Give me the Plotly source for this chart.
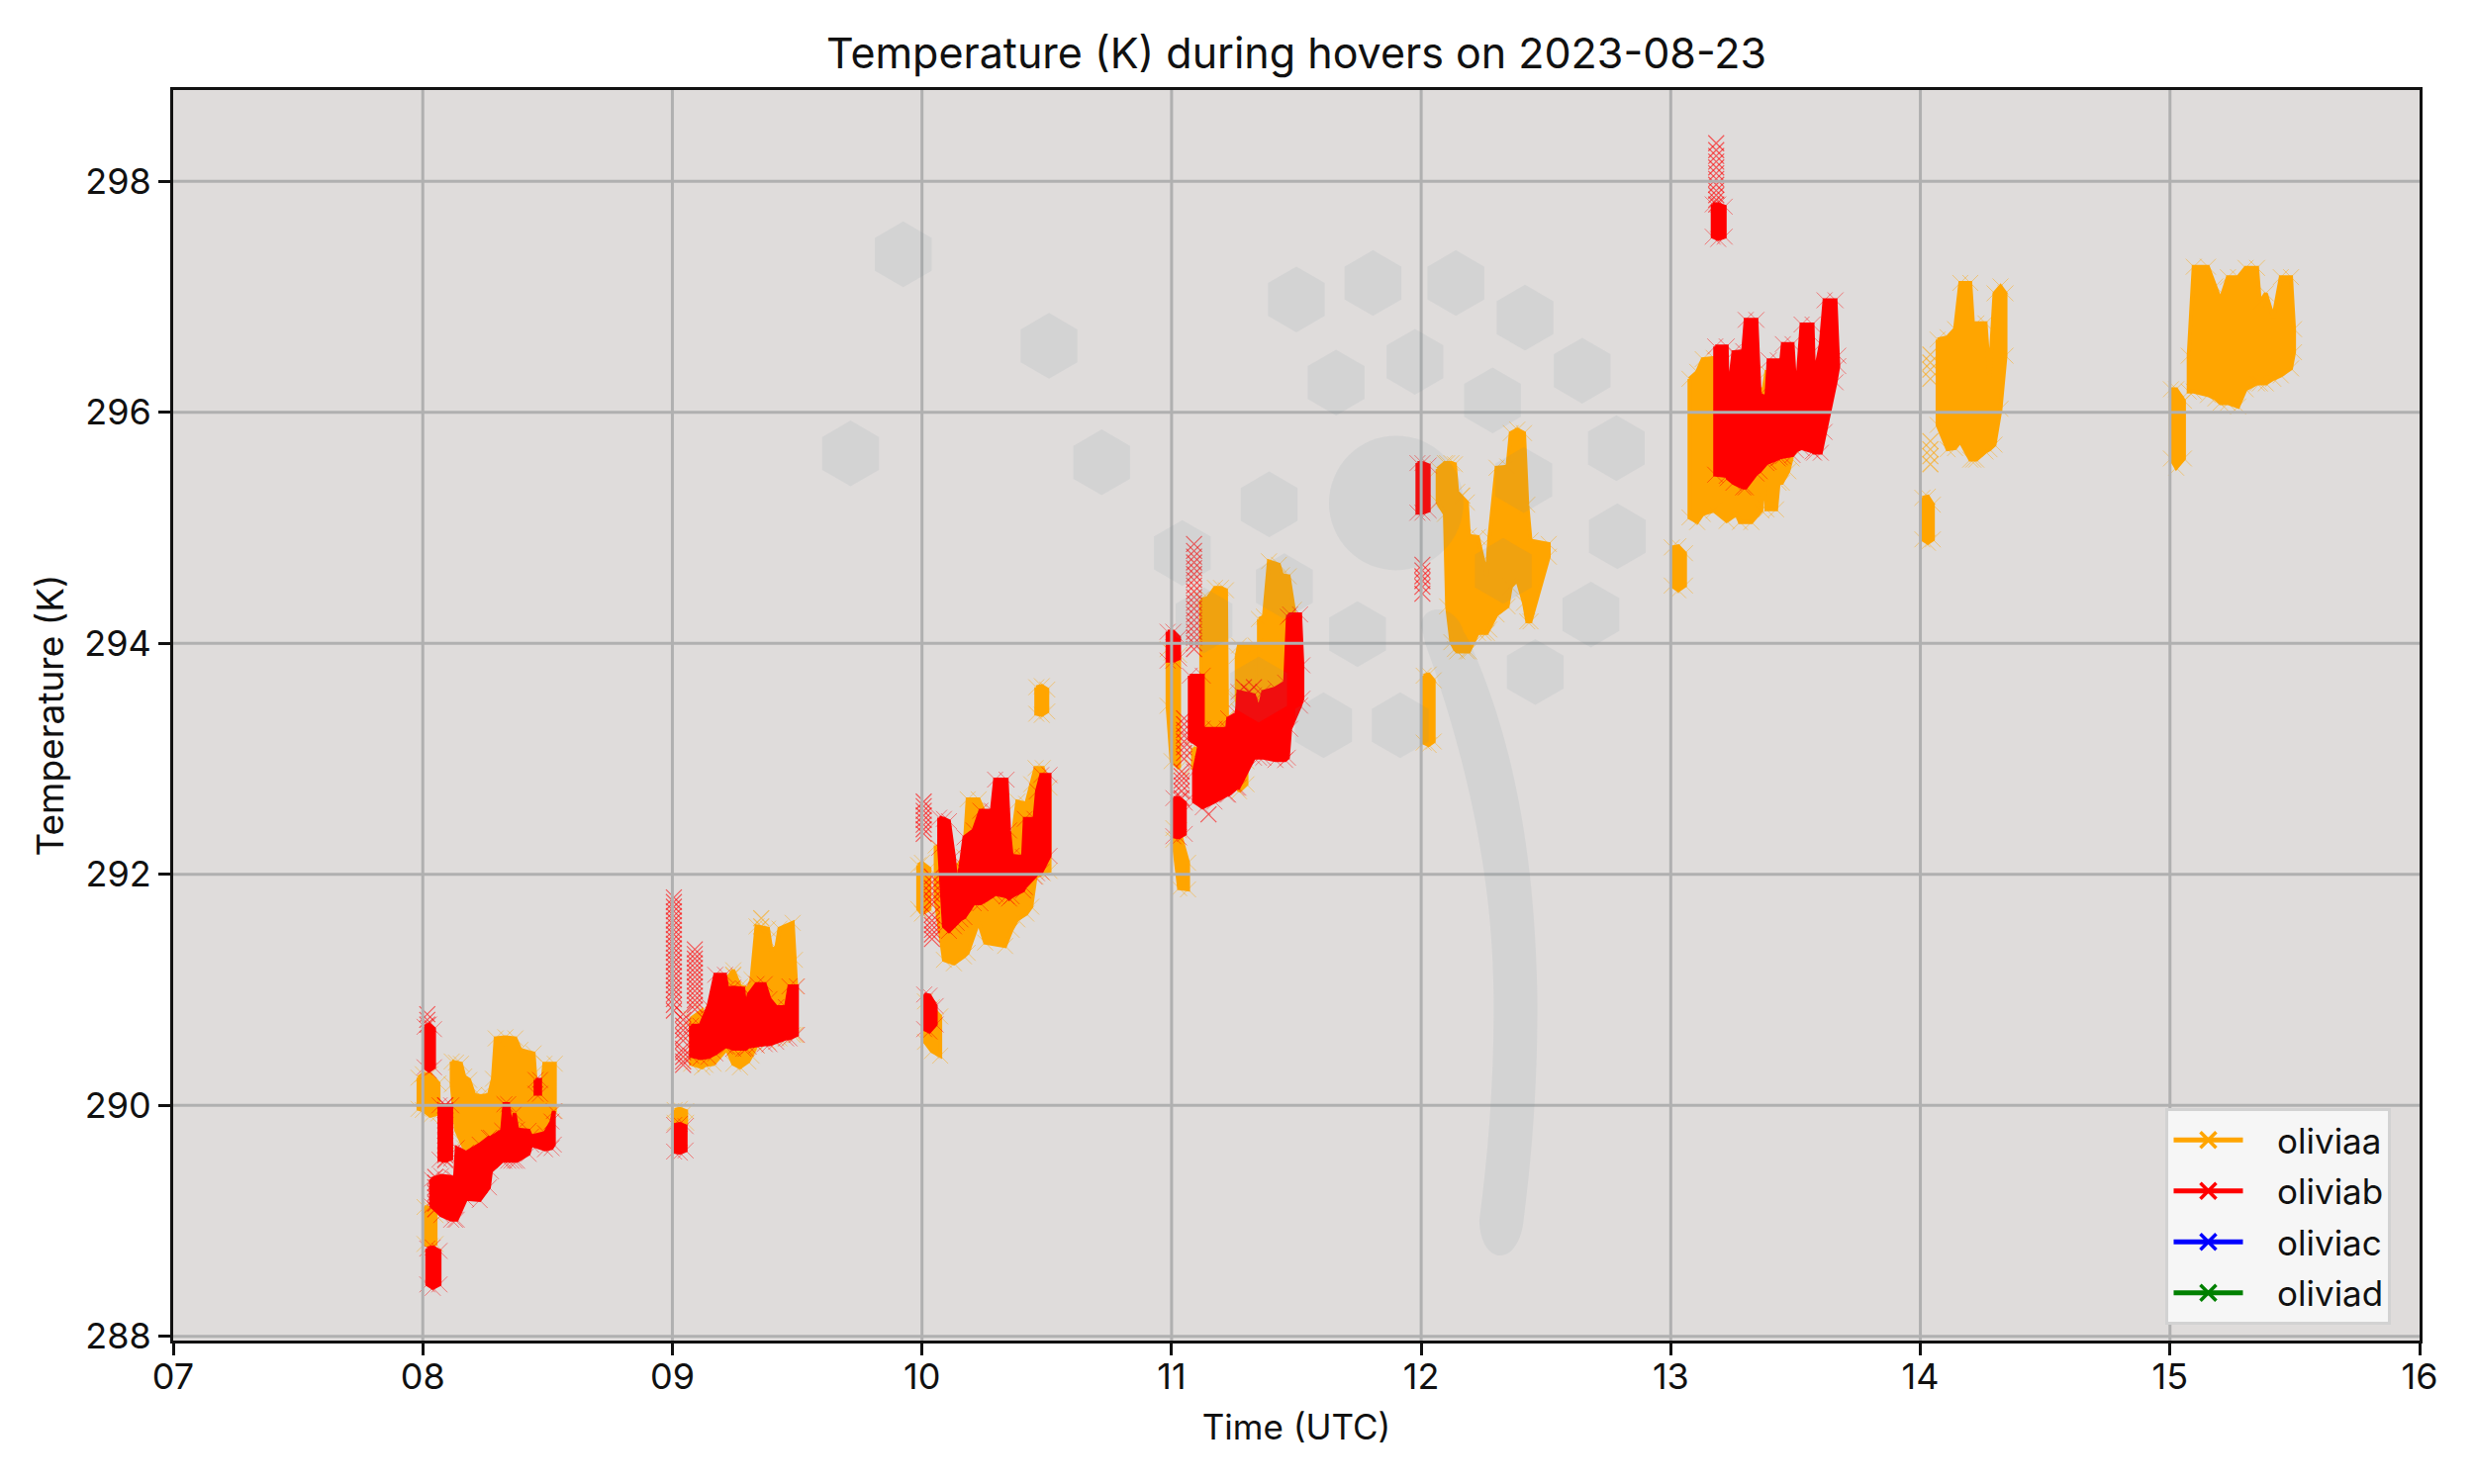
import plotly.graph_objects as go

FONT = "Inter"
INK = "#111111"
GRID = "#b0b0b0"
PANEL = "#dfdcdb"
WATERMARK = "rgba(103,140,149,0.10)"

names = ["oliviaa", "oliviab", "oliviac", "oliviad"]
colors = ["orange", "red", "blue", "green"]

hour_ticks = [7, 8, 9, 10, 11, 12, 13, 14, 15, 16]
hour_labels = ["07", "08", "09", "10", "11", "12", "13", "14", "15", "16"]
temp_ticks = [288, 290, 292, 294, 296, 298]

# envelope of each hover; None splits the hovers
oliviaa_hours = [
    7.983, 8.0, 8.03, 8.063, None,
    8.007, 8.03, 8.051, None,
    8.116, 8.133, 8.153, 8.166, 8.186, 8.206, 8.232, 8.265, 8.281, 8.292, 8.331, 8.371, 8.391, 8.444, 8.453, 8.479, 8.487, 8.529, None,
    9.009, 9.03, 9.055, None,
    9.075, 9.119, 9.132, 9.165, 9.218, 9.244, 9.271, 9.304, 9.317, 9.337, 9.383, 9.396, 9.416, 9.429, 9.482, 9.491, 9.496, None,
    9.985, 10.0, 10.03, None,
    10.012, 10.04, 10.073, None,
    10.055, 10.088, 10.128, 10.168, 10.183, 10.227, 10.253, 10.333, 10.359, 10.382, 10.418, 10.438, 10.455, 10.484, 10.511, None,
    10.458, 10.48, 10.502, None,
    10.984, 11.0, 11.03, None,
    11.007, 11.03, 11.066, None,
    11.086, 11.119, None,
    11.119, 11.145, 11.174, 11.198, 11.218, 11.222, None,
    11.261, 11.27, 11.337, 11.343, None,
    11.35, 11.37, 11.39, 11.43, 11.442, 11.469, 11.49, None,
    11.27, 11.3, None,
    12.01, 12.03, 12.05, None,
    12.066, 12.095, 12.104, 12.121, 12.135, 12.144, 12.183, 12.191, 12.227, 12.25, 12.263, 12.273, 12.302, 12.346, 12.359, 12.385, 12.412, 12.425, 12.438, 12.511, None,
    13.004, 13.03, 13.057, None,
    13.075, 13.106, 13.128, 13.172, 13.224, 13.264, 13.277, 13.323, 13.363, 13.37, 13.383, 13.422, 13.432, 13.445, 13.471, 13.484, None,
    14.008, 14.03, 14.05, None,
    14.069, 14.109, 14.139, 14.16, 14.2, 14.212, 14.224, 14.261, 14.277, 14.297, 14.321, 14.341, None,
    15.004, 15.025, 15.056, None,
    15.075, 15.095, 15.152, 15.182, 15.202, 15.232, 15.273, 15.303, 15.349, 15.36, 15.384, 15.414, 15.444, 15.485, 15.497,
]
oliviaa_high = [
    290.24, 290.27, 290.27, 290.19, None,
    289.12, 289.11, 289.05, None,
    290.38, 290.37, 290.36, 290.25, 290.22, 290.09, 290.08, 290.09, 290.23, 290.58, 290.59, 290.58, 290.48, 290.45, 290.18, 290.19, 290.36, 290.36, None,
    289.96, 289.97, 289.95, None,
    290.75, 290.82, 290.72, 290.81, 291.09, 291.17, 291.03, 291.01, 291.09, 291.55, 291.53, 291.35, 291.36, 291.53, 291.58, 291.26, 291.03, None,
    292.08, 292.1, 292.05, None,
    290.9, 290.85, 290.77, None,
    292.25, 292.15, 292.03, 292.15, 292.65, 292.65, 292.52, 292.15, 292.26, 292.63, 292.61, 292.78, 292.92, 292.92, 292.75, None,
    293.62, 293.63, 293.6, None,
    293.95, 293.92, 293.9, None,
    292.4, 292.38, 292.1, None,
    293.09, 293.08, None,
    294.38, 294.39, 294.48, 294.48, 294.46, 293.58, None,
    293.89, 293.98, 293.98, 293.72, None,
    294.21, 294.23, 294.71, 294.68, 294.59, 294.58, 294.29, None,
    293.0, 292.98, None,
    293.72, 293.73, 293.68, None,
    295.51, 295.56, 295.56, 295.56, 295.55, 295.31, 295.22, 294.93, 294.92, 294.72, 294.58, 294.91, 295.52, 295.53, 295.82, 295.85, 295.82, 295.2, 294.89, 294.86, None,
    294.83, 294.84, 294.78, None,
    296.29, 296.35, 296.46, 296.47, 296.23, 296.2, 296.2, 296.2, 296.2, 296.17, 296.35, 296.35, 296.15, 296.03, 295.97, 295.95, None,
    295.26, 295.27, 295.2, None,
    296.63, 296.65, 296.72, 297.12, 297.12, 296.72, 296.77, 296.77, 296.29, 297.03, 297.09, 297.03, None,
    296.2, 296.2, 296.1, None,
    296.49, 297.26, 297.26, 297.09, 296.97, 297.17, 297.17, 297.25, 297.25, 296.95, 297.03, 296.82, 297.17, 297.17, 296.72,
]
oliviaa_low = [
    289.97, 289.96, 289.91, 289.93, None,
    288.8, 288.78, 288.8, None,
    290.18, 289.79, 289.69, 289.63, 289.63, 289.59, 289.65, 289.71, 289.75, 289.76, 289.78, 289.78, 289.78, 289.76, 289.73, 289.72, 289.75, 289.95, None,
    289.85, 289.84, 289.85, None,
    290.36, 290.33, 290.35, 290.36, 290.49, 290.36, 290.33, 290.38, 290.43, 290.52, 290.55, 290.58, 290.58, 290.58, 290.61, 290.61, 290.61, None,
    291.7, 291.66, 291.7, None,
    290.55, 290.47, 290.43, None,
    291.78, 291.26, 291.23, 291.29, 291.32, 291.59, 291.41, 291.38, 291.52, 291.61, 291.66, 291.72, 291.98, 292.01, 292.03, None,
    293.39, 293.38, 293.41, None,
    293.46, 292.98, 292.92, None,
    292.3, 291.88, 291.87, None,
    292.93, 292.95, None,
    293.18, 293.18, 293.18, 293.23, 293.35, 293.35, None,
    293.52, 293.41, 293.45, 293.5, None,
    293.52, 293.56, 293.61, 293.61, 293.63, 293.66, 293.81, None,
    292.72, 292.78, None,
    293.14, 293.12, 293.15, None,
    295.22, 295.12, 294.32, 294.01, 293.95, 293.93, 293.93, 293.93, 294.09, 294.09, 294.09, 294.12, 294.25, 294.32, 294.49, 294.55, 294.35, 294.19, 294.19, 294.75, None,
    294.5, 294.46, 294.5, None,
    295.09, 295.05, 295.12, 295.15, 295.06, 295.12, 295.05, 295.05, 295.15, 295.57, 295.16, 295.16, 295.39, 295.39, 295.49, 295.6, None,
    294.9, 294.87, 294.9, None,
    295.89, 295.68, 295.69, 295.75, 295.59, 295.59, 295.59, 295.66, 295.68, 295.72, 296.03, 296.49, None,
    295.6, 295.52, 295.6, None,
    296.18, 296.18, 296.15, 296.12, 296.08, 296.08, 296.05, 296.2, 296.25, 296.25, 296.25, 296.29, 296.32, 296.38, 296.52,
]

oliviab_hours = [
    8.007, 8.025, 8.045, None,
    8.067, 8.09, 8.114, None,
    8.034, 8.074, 8.114, 8.129, 8.136, 8.173, 8.228, 8.265, 8.273, 8.318, 8.327, 8.342, 8.355, 8.368, 8.378, 8.424, 8.434, 8.49, 8.516, 8.525, None,
    8.018, 8.04, 8.067, None,
    8.452, 8.47, None,
    9.007, 9.03, 9.053, None,
    9.075, 9.112, 9.145, 9.172, 9.211, 9.22, 9.244, 9.284, 9.294, 9.306, 9.337, 9.37, 9.389, 9.416, 9.455, 9.469, 9.499, None,
    10.009, 10.03, 10.055, None,
    10.069, 10.088, 10.108, 10.128, 10.139, 10.154, 10.17, 10.207, 10.234, 10.28, 10.293, 10.339, 10.349, 10.359, 10.405, 10.412, 10.451, 10.461, 10.478, 10.511, None,
    10.984, 11.007, 11.03, None,
    11.007, 11.03, 11.053, None,
    11.073, 11.125, None,
    11.09, 11.125, 11.172, 11.222, 11.227, 11.261, 11.268, 11.33, 11.35, 11.367, 11.416, 11.455, 11.466, 11.475, 11.515, 11.524, None,
    11.985, 12.005, 12.03, None,
    13.178, 13.224, 13.228, 13.251, 13.29, 13.3, 13.343, 13.356, 13.383, 13.392, 13.429, 13.437, 13.449, 13.488, 13.502, 13.524, 13.568, 13.574, 13.601, 13.616, 13.66, 13.671, None,
    13.168, 13.19, 13.216,
]
oliviab_high = [
    290.68, 290.7, 290.66, None,
    290.0, 290.0, 290.0, None,
    289.36, 289.39, 289.38, 289.36, 289.63, 289.59, 289.66, 289.72, 289.72, 289.78, 290.01, 290.01, 289.79, 289.93, 289.79, 289.78, 289.73, 289.76, 289.86, 289.95, None,
    288.76, 288.77, 288.74, None,
    290.22, 290.22, None,
    289.83, 289.84, 289.82, None,
    290.69, 290.69, 290.86, 291.13, 291.13, 291.01, 291.02, 291.01, 290.81, 290.96, 291.05, 291.05, 290.92, 290.85, 290.85, 291.03, 291.03, None,
    290.96, 290.95, 290.86, None,
    292.49, 292.48, 292.46, 292.15, 291.88, 292.06, 292.32, 292.38, 292.55, 292.55, 292.82, 292.82, 292.38, 292.16, 292.15, 292.48, 292.48, 292.72, 292.86, 292.86, None,
    294.1, 294.1, 294.05, None,
    292.66, 292.66, 292.62, None,
    293.72, 293.72, None,
    292.89, 293.26, 293.26, 293.26, 293.35, 293.39, 293.58, 293.55, 293.42, 293.58, 293.61, 293.66, 294.23, 294.25, 294.25, 293.81, None,
    295.56, 295.56, 295.54, None,
    296.57, 296.57, 296.1, 296.52, 296.53, 296.8, 296.8, 296.15, 296.13, 296.45, 296.45, 296.32, 296.59, 296.59, 296.1, 296.76, 296.76, 296.29, 296.59, 296.97, 296.97, 296.49, None,
    297.8, 297.8, 297.78,
]
oliviab_low = [
    290.33, 290.3, 290.33, None,
    289.53, 289.52, 289.54, None,
    289.13, 289.05, 289.01, 289.01, 289.01, 289.19, 289.18, 289.29, 289.43, 289.52, 289.52, 289.52, 289.52, 289.52, 289.52, 289.58, 289.66, 289.62, 289.63, 289.66, None,
    288.45, 288.42, 288.45, None,
    290.1, 290.1, None,
    289.6, 289.59, 289.61, None,
    290.43, 290.41, 290.42, 290.45, 290.51, 290.51, 290.49, 290.49, 290.49, 290.51, 290.52, 290.53, 290.53, 290.55, 290.58, 290.58, 290.61, None,
    290.66, 290.64, 290.7, None,
    292.23, 291.55, 291.51, 291.55, 291.58, 291.61, 291.63, 291.75, 291.75, 291.81, 291.83, 291.81, 291.79, 291.81, 291.86, 291.89, 291.98, 292.01, 292.02, 292.16, None,
    293.85, 293.85, 293.87, None,
    292.33, 292.32, 292.35, None,
    293.17, 293.09, None,
    292.63, 292.58, 292.63, 292.69, 292.69, 292.75, 292.75, 293.01, 293.01, 293.01, 292.99, 292.99, 293.01, 293.26, 293.46, 293.52, None,
    295.13, 295.13, 295.15, None,
    295.46, 295.45, 295.43, 295.39, 295.35, 295.35, 295.47, 295.49, 295.56, 295.57, 295.6, 295.61, 295.62, 295.63, 295.67, 295.69, 295.66, 295.65, 295.65, 295.83, 296.26, 296.4, None,
    297.52, 297.5, 297.52,
]

# single crosses standing clear of the solid bands
oliviaa_stray_hours = [14.04, 14.04, 14.04, 14.04, 14.04, 14.04, 14.04, 14.04, 9.356, 9.356, 9.244, 12.164]
oliviaa_stray_temp = [296.5, 296.43, 296.37, 296.29, 295.75, 295.68, 295.62, 295.55, 291.62, 291.55, 291.13, 295.28]

oliviab_stray_hours = (
    [8.018] * 3 + [8.09] * 12 + [8.05] * 7
    + [9.006] * 25 + [9.043] * 11 + [9.09] * 14
    + [10.007] * 8 + [10.04] * 12
    + [11.05] * 8 + [11.04] * 6 + [11.09] * 19 + [11.148, 11.29, 11.31, 11.33]
    + [12.005] * 6 + [13.182] * 12
)
oliviab_stray_temp = [
    290.79, 290.74, 290.7,
    290.0, 289.96, 289.91, 289.87, 289.83, 289.78, 289.74, 289.69, 289.65, 289.61, 289.57, 289.53,
    289.38, 289.33, 289.29, 289.24, 289.2, 289.15, 289.1,
    291.8, 291.76, 291.72, 291.68, 291.64, 291.6, 291.56, 291.52, 291.48, 291.44, 291.4, 291.36, 291.32, 291.28, 291.24, 291.2, 291.16, 291.12, 291.08, 291.04, 291.0, 290.96, 290.92, 290.87, 290.82,
    290.79, 290.74, 290.69, 290.65, 290.6, 290.56, 290.49, 290.46, 290.42, 290.38, 290.35,
    291.35, 291.31, 291.27, 291.23, 291.19, 291.15, 291.11, 291.07, 291.03, 290.99, 290.95, 290.91, 290.87, 290.83,
    292.63, 292.59, 292.55, 292.51, 292.47, 292.43, 292.39, 292.35,
    291.98, 291.93, 291.88, 291.83, 291.78, 291.74, 291.65, 291.6, 291.56, 291.52, 291.48, 291.44,
    293.35, 293.3, 293.25, 293.2, 293.15, 293.1, 293.05, 293.0,
    292.89, 292.85, 292.81, 292.77, 292.72, 292.66,
    294.86, 294.8, 294.75, 294.7, 294.65, 294.6, 294.55, 294.5, 294.45, 294.4, 294.35, 294.3, 294.25, 294.2, 294.15, 294.1, 294.05, 294.0, 293.95,
    292.52, 293.62, 293.58, 293.62,
    294.68, 294.63, 294.58, 294.54, 294.49, 294.43,
    298.33, 298.27, 298.22, 298.17, 298.12, 298.07, 298.02, 297.97, 297.92, 297.88, 297.84, 297.8,
]

# watermark behind the picture, in axis units
hex_hours = [9.925, 10.509, 9.714, 10.72, 11.5, 11.807, 12.139, 12.416, 11.975, 11.659, 12.286, 12.645, 12.782, 12.411,
             12.786, 12.68, 12.457, 11.391, 11.043, 11.452, 11.745, 11.349, 11.609, 11.916, 12.329, 11.13]
hex_temp = [297.368, 296.575, 295.644, 295.567, 296.977, 297.119, 297.119, 296.82, 296.437, 296.257, 296.103, 296.36, 295.69, 295.414,
            294.927, 294.249, 293.751, 295.203, 294.782, 294.494, 294.08, 293.6, 293.291, 293.291, 294.627, 294.2]
HEX_HALF_W = 0.1137
HEX_HALF_H = 0.2848


def split_hovers(hours, values):
    blocks, cur_h, cur_v = [], [], []
    for h, v in zip(hours + [None], values + [None]):
        if h is None:
            blocks.append((cur_h, cur_v))
            cur_h, cur_v = [], []
        else:
            cur_h.append(h)
            cur_v.append(v)
    return blocks


def add_bands(fig, hours, high, low, color, stray_hours, stray_temp):
    px, py, mx, my = [], [], [], []
    for (h, hi), (_, lo) in zip(split_hovers(hours, high), split_hovers(hours, low)):
        px += h + h[::-1] + [h[0], None]
        py += hi + lo[::-1] + [hi[0], None]
        mx += h + h
        my += hi + lo
    fig.add_trace(go.Scatter(x=px, y=py, mode="lines", fill="toself", fillcolor=color, line=dict(color=color, width=4),
                             hoverinfo="skip", showlegend=False))
    fig.add_trace(go.Scatter(x=mx, y=my, mode="markers", hoverinfo="skip", showlegend=False,
                             marker=dict(symbol="x-thin", size=16, opacity=0.45, line=dict(color=color, width=1))))
    fig.add_trace(go.Scatter(x=stray_hours, y=stray_temp, mode="markers", hoverinfo="skip", showlegend=False,
                             marker=dict(symbol="x-thin", size=16, opacity=0.6, line=dict(color=color, width=1.2))))


fig = go.Figure()
add_bands(fig, oliviaa_hours, oliviaa_high, oliviaa_low, colors[0], oliviaa_stray_hours, oliviaa_stray_temp)
add_bands(fig, oliviab_hours, oliviab_high, oliviab_low, colors[1], oliviab_stray_hours, oliviab_stray_temp)

# the no-break spaces open the gap between legend line and label
for name, color in zip(names, colors):
    fig.add_trace(go.Scatter(x=[None], y=[None], name="\u00a0\u00a0\u00a0" + name, legendgroup=name, mode="lines+markers",
                             line=dict(color=color, width=5),
                             marker=dict(symbol="x-thin", size=28, line=dict(color=color, width=3.5))))

# grid sits over the data here, so it is drawn as shapes
for h in hour_ticks[1:-1]:
    fig.add_shape(type="line", xref="x", yref="paper", x0=h, x1=h, y0=0, y1=1, layer="above", line=dict(color=GRID, width=3))
for t in temp_ticks:
    fig.add_shape(type="line", xref="paper", yref="y", x0=0, x1=1, y0=t, y1=t, layer="above", line=dict(color=GRID, width=3))

for h, t in zip(hex_hours, hex_temp):
    w, k = HEX_HALF_W, HEX_HALF_H
    path = f"M {h},{t + k} L {h + w},{t + k / 2} L {h + w},{t - k / 2} L {h},{t - k} L {h - w},{t - k / 2} L {h - w},{t + k / 2} Z"
    fig.add_shape(type="path", path=path, layer="above", fillcolor=WATERMARK, line=dict(width=0))
fig.add_shape(type="circle", x0=11.9 - 0.2693, x1=11.9 + 0.2693, y0=295.215 - 0.5824, y1=295.215 + 0.5824,
              layer="above", fillcolor=WATERMARK, line=dict(width=0))
fig.add_shape(type="path", layer="above", fillcolor=WATERMARK, line=dict(width=0),
              path="M 12.0,294.15 C 12.0,294.35 12.14,294.35 12.17,294.1 L 12.19,294.03 C 12.30,293.5 12.45,292.6 12.465,291.0 "
                   "C 12.47,290.2 12.44,289.5 12.41,289.0 C 12.39,288.6 12.24,288.6 12.233,289.0 "
                   "C 12.27,289.6 12.295,290.3 12.29,291.0 C 12.285,291.9 12.2,292.9 12.016,294.0 Z")

axis_style = dict(showgrid=False, zeroline=False, showline=True, mirror=True, linecolor=INK, linewidth=3,
                  ticks="outside", ticklen=12, tickwidth=3, tickcolor=INK, tickfont=dict(size=36, color=INK))

fig.update_layout(
    width=2500,
    height=1500,
    margin=dict(l=175, r=55, t=91, b=145, pad=0),
    paper_bgcolor="white",
    plot_bgcolor=PANEL,
    font=dict(family=FONT, color=INK),
    title=dict(text="Temperature (K) during hovers on 2023-08-23", x=0.524, xanchor="center", y=0.964, yanchor="middle",
               font=dict(size=43, color=INK)),
    xaxis=dict(range=[7, 16], tickvals=hour_ticks, ticktext=hour_labels, ticklabelstandoff=-9,
               title=dict(text="Time (UTC)", font=dict(size=35, color=INK), standoff=19), **axis_style),
    yaxis=dict(range=[287.964, 298.79], tickvals=temp_ticks,
               title=dict(text="Temperature (K)", font=dict(size=37, color=INK), standoff=10), **axis_style),
    legend=dict(x=0.887, y=0.186, xanchor="left", yanchor="top", bgcolor="#f6f6f6", bordercolor="#d2d2d2", borderwidth=3,
                font=dict(size=35, color=INK), itemwidth=70, tracegroupgap=3,
                entrywidth=170, entrywidthmode="pixels"),
)

fig.write_html("out.html", post_script="document.body.style.margin='0';", config={"displayModeBar": False})
